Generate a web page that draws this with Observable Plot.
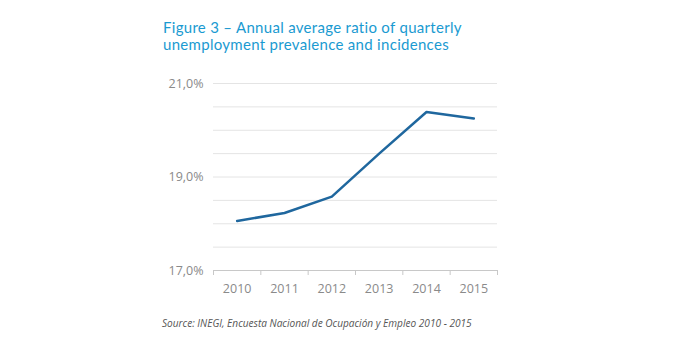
<!DOCTYPE html>
<html><head><meta charset="utf-8">
<script src="https://cdn.jsdelivr.net/npm/d3@7"></script>
<script src="https://cdn.jsdelivr.net/npm/@observablehq/plot@0.6"></script>
<style>
body{margin:0;background:#fff;}
#wrap{position:relative;width:674px;height:360px;overflow:hidden;font-family:"Open Sans","Noto Sans",sans-serif;}
.title{position:absolute;left:163px;color:#1a9ad1;font-family:Lato,"Open Sans",sans-serif;font-size:15px;letter-spacing:0.3px;line-height:17px;height:17px;white-space:nowrap;}
#t1{top:19px;}
#t2{top:36px;}
#chart{position:absolute;left:0;top:65px;}
#caption{position:absolute;left:162px;top:316px;font-style:italic;font-size:10.1px;color:#555;white-space:nowrap;}
</style></head>
<body>
<div id="wrap">
  <div class="title" id="t1">Figure 3 – Annual average ratio of quarterly</div>
  <div class="title" id="t2">unemployment prevalence and incidences</div>
  <div id="chart"></div>
  <div id="caption">Source: INEGI, Encuesta Nacional de Ocupación y Empleo 2010 - 2015</div>
</div>
<script>
const years = [2010, 2011, 2012, 2013, 2014, 2015];
const ratio = [18.06, 18.23, 18.58, 19.50, 20.39, 20.25];
const yTicks = [17, 19, 21];
const gridTicks = [17.5, 18, 18.5, 19, 19.5, 20, 20.5, 21];

const data = years.map((y, i) => ({year: y, value: ratio[i]}));
const bounds = years.map(y => y - 0.5).concat([years[years.length - 1] + 0.5]);

const chart = Plot.plot({
  width: 674,
  height: 245,
  marginLeft: 213,
  marginRight: 177,
  marginTop: 18,
  marginBottom: 40,
  x: {type: "linear", domain: [bounds[0], bounds[bounds.length - 1]]},
  y: {domain: [17, 21]},
  style: {fontFamily: '"Open Sans","Noto Sans",sans-serif', fontSize: "12.5px", color: "#8a8a8a", background: "transparent"},
  marks: [
    Plot.gridY(gridTicks, {stroke: "#e4e4e4", strokeOpacity: 1}),
    Plot.ruleY([17], {stroke: "#c8c8c8"}),
    Plot.axisX(bounds, {tickFormat: () => "", tickSize: 5, stroke: "#c8c8c8", label: null}),
    Plot.axisX(years, {tickSize: 0, tickPadding: 14, tickFormat: d => String(d), label: null, fill: "#8a8a8a"}),
    Plot.axisY(yTicks, {tickSize: 0, tickPadding: 10, tickFormat: d => d.toFixed(1).replace(".", ",") + "%", label: null, fill: "#8a8a8a"}),
    Plot.line(data, {x: "year", y: "value", stroke: "#1f679e", strokeWidth: 2.5})
  ]
});
document.getElementById("chart").appendChild(chart);
</script>
</body></html>
